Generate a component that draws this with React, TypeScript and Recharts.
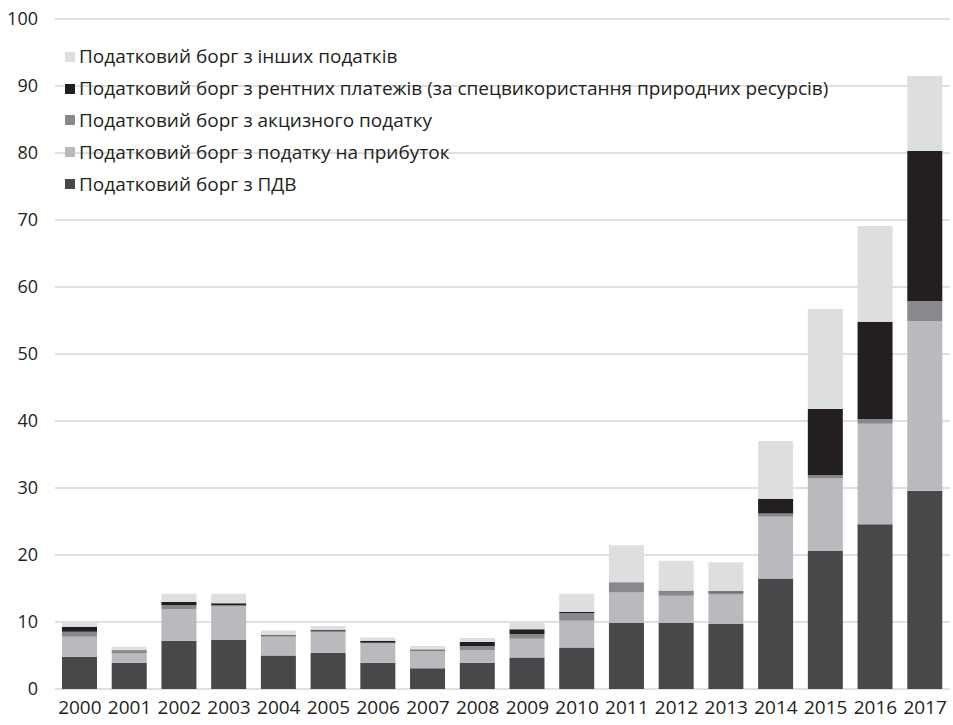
import { Bar, BarChart, CartesianGrid, XAxis, YAxis } from 'recharts'

const years = [
  '2000', '2001', '2002', '2003', '2004', '2005', '2006', '2007', '2008',
  '2009', '2010', '2011', '2012', '2013', '2014', '2015', '2016', '2017',
]

// tax debt by type, stacked bottom to top
const vat = [4.8, 3.9, 7.2, 7.3, 5.0, 5.4, 3.9, 3.1, 3.9, 4.7, 6.2, 9.9, 9.9, 9.7, 16.5, 20.6, 24.6, 29.6]
const profit = [3.0, 1.4, 4.7, 5.0, 2.8, 3.1, 2.9, 2.6, 1.9, 2.8, 4.0, 4.5, 4.0, 4.4, 9.2, 10.8, 15.0, 25.3]
const excise = [0.75, 0.4, 0.6, 0.2, 0.2, 0.2, 0.1, 0.05, 0.6, 0.7, 1.1, 1.5, 0.7, 0.3, 0.5, 0.5, 0.7, 3.0]
const rent = [0.75, 0.1, 0.5, 0.3, 0.05, 0.1, 0.3, 0.15, 0.6, 0.7, 0.2, 0.05, 0.05, 0.2, 2.2, 9.9, 14.5, 22.4]
const other = [0.6, 0.5, 1.2, 1.4, 0.7, 0.6, 0.5, 0.5, 0.6, 1.0, 2.7, 5.5, 4.5, 4.3, 8.6, 14.9, 14.3, 11.2]

const yTicks = [0, 10, 20, 30, 40, 50, 60, 70, 80, 90, 100]

const series = [
  { key: 'vat', name: 'Податковий борг з ПДВ', color: '#47484a', values: vat },
  { key: 'profit', name: 'Податковий борг з податку на прибуток', color: '#b9babd', values: profit },
  { key: 'excise', name: 'Податковий борг з акцизного податку', color: '#88898c', values: excise },
  {
    key: 'rent',
    name: 'Податковий борг з рентних платежів (за спецвикористання природних ресурсів)',
    color: '#231f20',
    values: rent,
  },
  { key: 'other', name: 'Податковий борг з інших податків', color: '#dddee0', values: other },
]

const data = years.map((year, i) => {
  const row: Record<string, string | number> = { year }
  for (const s of series) row[s.key] = s.values[i]
  return row
})

const FONT = '"Open Sans", sans-serif'
const TEXT = '#231f20'

// legend sits over the plot, top-left, topmost series first
function LegendBox() {
  const items = [...series].reverse()
  return (
    <div
      style={{
        position: 'absolute',
        left: 65,
        top: 41,
        fontFamily: FONT,
        fontSize: 19,
        color: TEXT,
        pointerEvents: 'none',
      }}
    >
      {items.map((s) => (
        <div key={s.key} style={{ display: 'flex', alignItems: 'center', height: 31.8 }}>
          <span style={{ width: 10, height: 10, background: s.color, marginRight: 4, flex: 'none' }} />
          <span style={{ whiteSpace: 'nowrap', lineHeight: 1 }}>{s.name}</span>
        </div>
      ))}
    </div>
  )
}

export default function App() {
  return (
    <div style={{ position: 'absolute', left: 0, top: 0, width: 953, height: 725, background: '#fff' }}>
      <BarChart
        width={953}
        height={725}
        data={data}
        margin={{ top: 19, right: 3, left: 0, bottom: 0 }}
        barSize={35}
      >
        <CartesianGrid vertical={false} stroke="#e0e0e0" strokeWidth={2} />
        <XAxis
          dataKey="year"
          height={36}
          axisLine={false}
          tickLine={false}
          tickSize={0}
          tickMargin={12}
          interval={0}
          tick={{ fontSize: 19, fill: TEXT, fontFamily: FONT }}
        />
        <YAxis
          width={55}
          domain={[0, 100]}
          ticks={yTicks}
          axisLine={false}
          tickLine={false}
          tickSize={0}
          tickMargin={17}
          tick={{ fontSize: 18, fill: TEXT, fontFamily: FONT }}
        />
        {series.map((s) => (
          <Bar key={s.key} dataKey={s.key} name={s.name} stackId="debt" fill={s.color} isAnimationActive={false} />
        ))}
      </BarChart>
      <LegendBox />
    </div>
  )
}
